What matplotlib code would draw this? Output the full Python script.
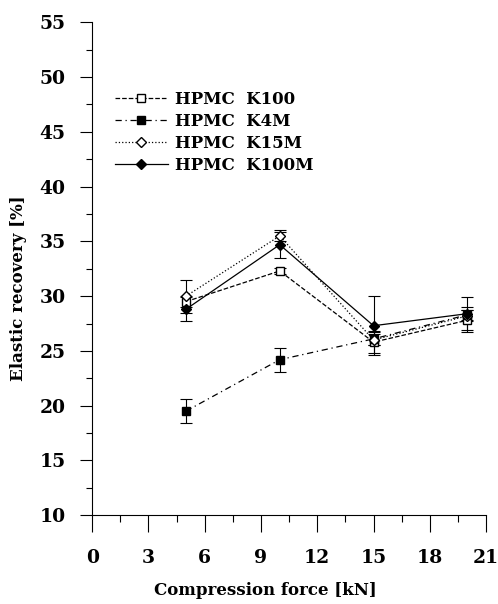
# elastic recovery of HPMC grades vs compression force

import matplotlib
matplotlib.use('Agg')
import matplotlib.pyplot as plt
from matplotlib.ticker import MultipleLocator

# data
force = [5, 10, 15, 20]

k100 = [29.5, 32.3, 25.8, 27.8]
k100_err = [0.5, 0.3, 1.0, 0.9]

k4m = [19.5, 24.2, 26.1, 28.3]
k4m_err = [1.1, 1.1, 0.6, 1.6]

k15m = [30.0, 35.5, 26.0, 28.2]
k15m_err = [1.5, 0.5, 0.5, 0.5]

k100m = [28.8, 34.7, 27.3, 28.4]
k100m_err = [1.1, 1.2, 2.7, 0.6]

labels = ['HPMC  K100', 'HPMC  K4M', 'HPMC  K15M', 'HPMC  K100M']

xticks = [0, 3, 6, 9, 12, 15, 18, 21]
yticks = [10, 15, 20, 25, 30, 35, 40, 45, 50, 55]

font = 'DejaVu Serif'

fig = plt.figure(figsize=(4.98, 6.04), dpi=100)
ax = fig.add_axes([0.185, 0.147, 0.791, 0.816])

common = dict(color='black', linewidth=0.9, capsize=4, elinewidth=0.8,
              capthick=0.8, markersize=5.5)

c1 = ax.errorbar(force, k100, yerr=k100_err, marker='s', markerfacecolor='white',
                 linestyle='--', label=labels[0], **common)
c2 = ax.errorbar(force, k4m, yerr=k4m_err, marker='s', markerfacecolor='black',
                 linestyle=(0, (5, 3, 1, 3)), label=labels[1], **common)
c3 = ax.errorbar(force, k15m, yerr=k15m_err, marker='D', markerfacecolor='white',
                 linestyle=':', label=labels[2], **common)
c4 = ax.errorbar(force, k100m, yerr=k100m_err, marker='D', markerfacecolor='black',
                 linestyle='-', label=labels[3], **common)

ax.set_xlim(0, 21)
ax.set_ylim(10, 55)
ax.set_xticks(xticks)
ax.set_yticks(yticks)
ax.xaxis.set_minor_locator(MultipleLocator(1.5))
ax.yaxis.set_minor_locator(MultipleLocator(2.5))

ax.spines['top'].set_visible(False)
ax.spines['right'].set_visible(False)
ax.spines['left'].set_linewidth(0.8)
ax.spines['bottom'].set_linewidth(0.8)

ax.tick_params(axis='x', which='major', direction='out', length=12, width=0.8, pad=12)
ax.tick_params(axis='x', which='minor', direction='out', length=5, width=0.8)
ax.tick_params(axis='y', which='major', direction='out', length=9, width=0.8, pad=10)
ax.tick_params(axis='y', which='minor', direction='out', length=4, width=0.8)

for lab in ax.get_xticklabels() + ax.get_yticklabels():
    lab.set_fontfamily(font)
    lab.set_fontweight('bold')
    lab.set_fontsize(13.5)

ax.set_xlabel('Compression force [kN]', fontfamily=font, fontweight='bold',
              fontsize=12)
ax.set_ylabel('Elastic recovery [%]', fontfamily=font, fontweight='bold',
              fontsize=12)
ax.xaxis.set_label_coords(0.44, -0.135)
ax.yaxis.set_label_coords(-0.165, 0.46)

# legend shows only line + marker, no error bars
handles = [c[0] for c in (c1, c2, c3, c4)]
leg = ax.legend(handles, labels, loc='upper left', bbox_to_anchor=(0.04, 0.875),
                frameon=False, handlelength=3.2, handletextpad=0.4,
                labelspacing=0.3, borderaxespad=0,
                prop={'family': font, 'weight': 'bold', 'size': 12})

fig.savefig('out.png', dpi=100)
